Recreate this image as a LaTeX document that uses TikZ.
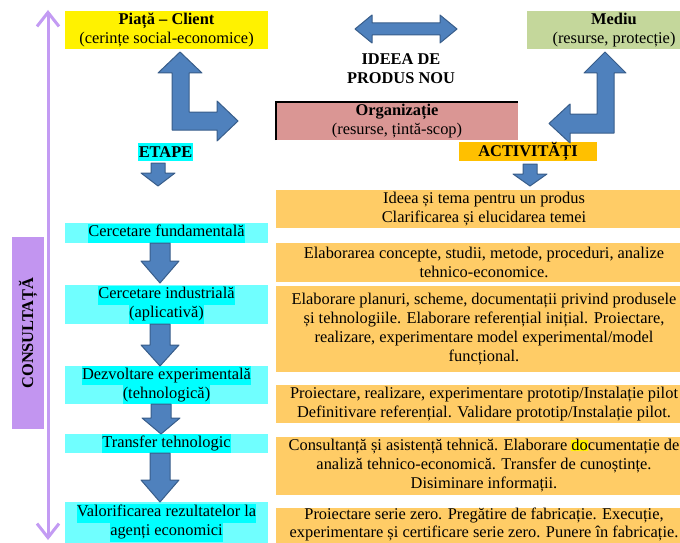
\documentclass[tikz,border=0pt]{standalone}
\usepackage{fontspec}
\setmainfont{Liberation Serif}
\usetikzlibrary{arrows.meta}
\definecolor{cyanbox}{HTML}{70FFFF}
\definecolor{cyanhl}{HTML}{00FFFF}
\definecolor{orbox}{HTML}{FFCC66}
\definecolor{blueA}{HTML}{4F81BD}
\definecolor{blueB}{HTML}{385D8A}
\definecolor{purpline}{HTML}{C39BF3}
\definecolor{purpbox}{HTML}{C295F0}
\definecolor{greenbox}{HTML}{C4D79B}
\definecolor{pinkbox}{HTML}{DA9694}
\definecolor{activ}{HTML}{FFC000}
\newcommand\hlc[1]{{\setlength{\fboxsep}{0pt}\colorbox{cyanhl}{\strut #1}}}
\newcommand\hly[1]{{\setlength{\fboxsep}{0pt}\colorbox{yellow}{#1}}}
\newcommand\bdown[4]{\filldraw[blockarr] (#1-10,#2) -- (#1+10,#2) -- (#1+10,#3) -- (#1+19,#3) -- (#1,#4) -- (#1-19,#3) -- (#1-10,#3) -- cycle;}
\newcommand\sdown[4]{\filldraw[blockarr] (#1-7,#2) -- (#1+7,#2) -- (#1+7,#3) -- (#1+17,#3) -- (#1,#4) -- (#1-17,#3) -- (#1-7,#3) -- cycle;}
\begin{document}
\begin{tikzpicture}[x=1pt,y=-1pt,
  base/.style={font=\fontsize{16.4}{19}\selectfont, align=center, inner sep=0pt, outer sep=0pt},
  titlebox/.style={base, minimum height=38pt},
  stage/.style={base, fill=cyanbox, minimum width=203pt},
  actbox/.style={base, fill=orbox, minimum width=416pt},
  label/.style={base, font=\fontsize{16.4}{19}\selectfont\bfseries},
  blockarr/.style={fill=blueA, draw=blueB, line width=1pt, line join=round},
]
\useasboundingbox (0,0) rectangle (680,543);
\clip (0,0) rectangle (680,543);

% purple consultation arrow and box
\draw[purpline, line width=3pt, {Straight Barb[length=14pt,width=22pt]}-{Straight Barb[length=14pt,width=22pt]}] (48,10) coordinate (ctop) -- (48,540) coordinate (cbot);
\node[base, fill=purpbox, minimum width=32pt, minimum height=192pt] (cons) at (28,333) {};
\node[label, rotate=90] (constext) at (cons.center) {CONSULTAȚĂ};

% top boxes
\node[titlebox, fill=yellow, minimum width=203pt] (piata) at (166.5,30) {\textbf{Piață – Client}\\(cerințe social-economice)};
\node[titlebox, fill=greenbox, minimum width=174pt] (mediu) at (614,30) {\textbf{Mediu}\\(resurse, protecție)};
\node[label] (idee) at (401,69) {IDEEA DE\\PRODUS NOU};
\node[titlebox, fill=pinkbox, minimum width=242pt] (org) at (397,121) {\textbf{Organizație}\\(resurse, țintă-scop)};
\draw[black, line width=1.2pt] (org.south west) -- (org.north west) -- (org.north east);

\node[label, fill=cyanhl, minimum width=55pt, minimum height=18pt] (etape) at (165.5,152) {ETAPE};
\node[label, fill=activ, minimum width=138pt, minimum height=19pt] (activ) at (528,151.5) {ACTIVITĂȚI};

% block arrows at top
\filldraw[blockarr] (355,29) -- (372,15) -- (372,23) -- (440,23) -- (440,15) -- (457,29) -- (440,43) -- (440,35) -- (372,35) -- (372,43) -- cycle;
\filldraw[blockarr] (180,52) -- (202,73) -- (189,73) -- (189,112) -- (217,112) -- (217,101) -- (238,121) -- (217,141) -- (217,130) -- (172,130) -- (172,73) -- (158,73) -- cycle;
\filldraw[blockarr] (605,52) -- (626,73) -- (614,73) -- (614,133) -- (570,133) -- (570,143) -- (549,123.5) -- (570,104) -- (570,114) -- (597,114) -- (597,73) -- (584,73) -- cycle;
\sdown{158}{163}{173}{186}
\sdown{530}{164}{174}{186}

% stages
\node[stage, minimum height=20pt] (s1) at (166.5,233) {\hlc{Cercetare fundamentală}};
\node[stage, minimum height=39pt] (s2) at (166.5,304.5) {\hlc{Cercetare industrială}\\\hlc{(aplicativă)}};
\node[stage, minimum height=38pt] (s3) at (166.5,385) {\hlc{Dezvoltare experimentală}\\\hlc{(tehnologică)}};
\node[stage, minimum height=19pt] (s4) at (166.5,443.5) {\hlc{Transfer tehnologic}};
\node[stage, minimum height=41pt] (s5) at (166.5,522.5) {\hlc{Valorificarea rezultatelor la}\\\hlc{agenți economici}};

\bdown{160}{243}{261}{283}
\bdown{160}{324}{345}{366}
\bdown{161}{404}{418}{434}
\bdown{160}{453}{480}{502}

% activities
\node[actbox, minimum height=38pt] (a1) at (484,209) {Ideea și tema pentru un produs\\Clarificarea și elucidarea temei};
\node[actbox, minimum height=39pt] (a2) at (484,262.5) {Elaborarea concepte, studii, metode, proceduri, analize\\tehnico-economice.};
\node[actbox, minimum height=86pt] (a3) at (484,329) {Elaborare planuri, scheme, documentații privind produsele\\și tehnologiile. Elaborare referențial inițial. Proiectare,\\realizare, experimentare model experimental/model\\funcțional.};
\node[actbox, minimum height=38pt] (a4) at (484,404) {Proiectare, realizare, experimentare prototip/Instalație pilot\\Definitivare referențial. Validare prototip/Instalație pilot.};
\node[actbox, minimum height=58pt] (a5) at (484,466) {Consultanță și asistență tehnică. Elaborare \hly{do}cumentație de\\analiză tehnico-economică. Transfer de cunoștințe.\\Disiminare informații.};
\fill[orbox] (276,508) rectangle (680,543);
\node[base, font=\fontsize{16.4}{17.5}\selectfont] (a6) at (484,524.5) {Proiectare serie zero. Pregătire de fabricație. Execuție,\\experimentare și certificare serie zero. Punere în fabricație.};
\end{tikzpicture}
\end{document}
